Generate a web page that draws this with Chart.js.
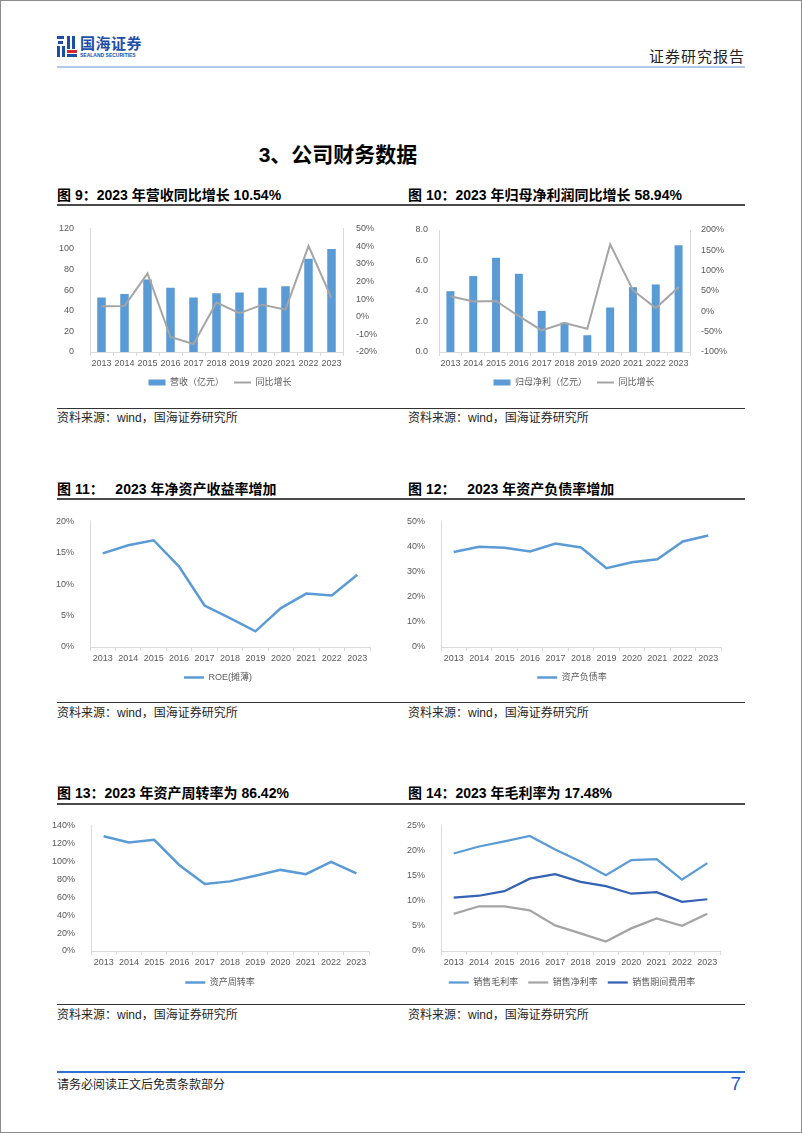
<!DOCTYPE html>
<html lang="zh-CN">
<head>
<meta charset="utf-8">
<title>公司财务数据</title>
<script src="https://cdn.jsdelivr.net/npm/chart.js@4.4.1/dist/chart.umd.min.js"></script>
<style>
  html, body { margin: 0; padding: 0; background: #fff; }
  body { position: relative; width: 802px; height: 1133px; overflow: hidden;
         font-family: "Liberation Sans", "Noto Sans CJK SC", sans-serif; color: #000; }
  .page { position: absolute; left: 0; top: 0; width: 800px; height: 1131px; border: 1px solid #8c8c8c; }
  .abs { position: absolute; white-space: nowrap; }
  canvas { position: absolute; }
  .fig-title { font-size: 14px; font-weight: bold; line-height: 16px; }
  .rule-dark { position: absolute; left: 57px; width: 688px; height: 2px; background: #4a4a4a; }
  .rule-thin { position: absolute; left: 57px; width: 688px; height: 1px; background: #333; }
  .source { font-size: 12px; line-height: 14px; color: #262626; }
  .logo b { position: absolute; display: block; }
</style>
</head>
<body>
<div class="page"></div>

<!-- 页眉 -->
<div class="abs logo" style="left:57px;top:36px;width:20px;height:21px;">
  <b style="left:0;top:0;width:7px;height:3px;background:#1d4fa8;"></b>
  <b style="left:1px;top:5px;width:5px;height:3px;background:#1d4fa8;"></b>
  <b style="left:0;top:10px;width:3px;height:11px;background:#1d4fa8;"></b>
  <b style="left:5px;top:10px;width:3px;height:11px;background:#1d4fa8;"></b>
  <b style="left:10px;top:0;width:3px;height:13px;background:#1d4fa8;"></b>
  <b style="left:15px;top:0;width:3px;height:13px;background:#1d4fa8;"></b>
  <b style="left:10px;top:14px;width:10px;height:3px;background:#d62a2a;"></b>
  <b style="left:10px;top:18px;width:10px;height:3px;background:#1d4fa8;"></b>
</div>
<div class="abs" style="left:80px;top:35px;font-size:15px;font-weight:bold;color:#1d4fa8;line-height:17px;letter-spacing:0.5px;">国海证券</div>
<div class="abs" style="left:80px;top:52px;font-size:5px;font-weight:bold;color:#1d4fa8;line-height:6px;">SEALAND SECURITIES</div>
<div class="abs" style="right:57px;top:47px;font-size:15px;color:#222;line-height:19px;letter-spacing:1px;">证券研究报告</div>
<div class="abs" style="left:57px;top:66px;width:688px;height:2px;background:#b0c8ec;"></div>

<div class="abs" style="left:0;width:802px;top:142px;text-align:center;font-size:21px;font-weight:bold;line-height:26px;padding-right:126px;box-sizing:border-box;">3、公司财务数据</div>

<!-- 第一行 -->
<div class="abs fig-title" style="left:57px;top:187px;">图 9：2023 年营收同比增长 10.54%</div>
<div class="abs fig-title" style="left:408px;top:187px;">图 10：2023 年归母净利润同比增长 58.94%</div>
<div class="rule-dark" style="top:204px;"></div>
<canvas id="c9"></canvas>
<canvas id="c10"></canvas>
<div class="rule-thin" style="top:408px;"></div>
<div class="abs source" style="left:57px;top:411px;">资料来源：wind，国海证券研究所</div>
<div class="abs source" style="left:408px;top:411px;">资料来源：wind，国海证券研究所</div>

<!-- 第二行 -->
<div class="abs fig-title" style="left:57px;top:481px;">图 11：&nbsp;&nbsp;&nbsp;2023 年净资产收益率增加</div>
<div class="abs fig-title" style="left:408px;top:481px;">图 12：&nbsp;&nbsp;&nbsp;2023 年资产负债率增加</div>
<div class="rule-dark" style="top:498px;"></div>
<canvas id="c11"></canvas>
<canvas id="c12"></canvas>
<div class="rule-thin" style="top:702px;"></div>
<div class="abs source" style="left:57px;top:706px;">资料来源：wind，国海证券研究所</div>
<div class="abs source" style="left:408px;top:706px;">资料来源：wind，国海证券研究所</div>

<!-- 第三行 -->
<div class="abs fig-title" style="left:57px;top:785px;">图 13：2023 年资产周转率为 86.42%</div>
<div class="abs fig-title" style="left:408px;top:785px;">图 14：2023 年毛利率为 17.48%</div>
<div class="rule-dark" style="top:803px;"></div>
<canvas id="c13"></canvas>
<canvas id="c14"></canvas>
<div class="rule-thin" style="top:1004px;"></div>
<div class="abs source" style="left:57px;top:1008px;">资料来源：wind，国海证券研究所</div>
<div class="abs source" style="left:408px;top:1008px;">资料来源：wind，国海证券研究所</div>

<!-- 页脚 -->
<div class="abs" style="left:57px;top:1071px;width:688px;height:2px;background:#2f6fd6;"></div>
<div class="abs" style="left:57px;top:1078px;font-size:12px;color:#222;line-height:15px;">请务必阅读正文后免责条款部分</div>
<div class="abs" style="right:61px;top:1073px;font-size:19px;color:#1f5bd0;line-height:22px;">7</div>

<script>
// 数据
const years = ['2013', '2014', '2015', '2016', '2017', '2018', '2019', '2020', '2021', '2022', '2023'];
const revenue = [53, 56.4, 70.4, 62.5, 52.9, 57, 57.7, 62.3, 63.9, 90.5, 99.9];
const revenueYoy = [5.9, 6, 24.5, -11.5, -15.5, 8, 2, 6.8, 4, 40, 10.54];
const netProfit = [3.99, 4.98, 6.18, 5.13, 2.70, 1.93, 1.10, 2.92, 4.25, 4.43, 7.0];
const netProfitYoy = [37, 24, 25.5, -12, -47, -29, -43, 165, 52, 8, 58.94];
const roe = [14.9, 16.2, 17.0, 12.8, 6.6, 4.6, 2.5, 6.2, 8.5, 8.2, 11.5];
const debtRatio = [37.8, 39.9, 39.5, 38.0, 41.2, 39.6, 31.4, 33.7, 34.9, 42.0, 44.4];
const assetTurnover = [128, 121, 124, 95.6, 74.6, 77.6, 83.8, 90.4, 85.7, 99.3, 86.42];
const grossMargin = [19.4, 20.8, 21.8, 22.9, 20.2, 17.8, 15.1, 18.1, 18.3, 14.2, 17.48];
const netMargin = [7.4, 8.9, 8.9, 8.1, 5.1, 3.5, 1.9, 4.5, 6.5, 5.0, 7.4];
const expenseRatio = [10.6, 11.0, 11.9, 14.4, 15.3, 13.75, 12.9, 11.4, 11.7, 9.8, 10.3];

const FONT = '"Liberation Sans", "Noto Sans CJK SC", sans-serif';
const tickFont = { family: FONT, size: 9 };
const axisGray = '#d9d9d9';
const textGray = '#595959';
const blue = '#5b9bd5';
const gray = '#a5a5a5';
const darkBlue = '#3461b3';

const pct = v => v + '%';

// 图例整体平移，使其中心对准原图位置
const legendShift = {
    id: 'legendShift',
    afterLayout(chart, args, opts) {
        const lg = chart.legend;
        if (lg && opts.dx) {
            lg.left += opts.dx;
            lg.right += opts.dx;
        }
    }
};

// 按页面坐标摆放画布
function frame(id, g) {
    const left = g.plotLeft - 45;
    const top = g.plotTop - g.padTop;
    const padRight = g.rightW ? 0 : 28;
    const right = g.plotRight + (g.rightW || 28);
    const height = (g.plotBottom - top) + g.xH + 29;
    const legendMid = left + (right - left - padRight) / 2;
    const cv = document.getElementById(id);
    cv.width = right - left;
    cv.height = height;
    cv.style.left = left + 'px';
    cv.style.top = top + 'px';
    return { cv: cv, padRight: padRight, padTop: g.padTop, xH: g.xH, rightW: g.rightW, dx: g.legendX - legendMid };
}

function xAxis(h) {
    return {
        type: 'category',
        offset: true,
        grid: { display: true, offset: true, drawOnChartArea: false, tickLength: 4, color: axisGray },
        border: { display: true, color: axisGray },
        ticks: { color: textGray, font: tickFont, padding: 2, autoSkip: false, maxRotation: 0 },
        afterFit: s => { s.height = h; }
    };
}

function yAxis(pos, min, max, step, fmt, w, pad) {
    return {
        position: pos, min: min, max: max,
        grid: { display: false },
        border: { display: true, color: axisGray },
        ticks: { stepSize: step, color: textGray, font: tickFont, padding: pad, callback: fmt },
        afterFit: s => { s.width = w; }
    };
}

function legendOpts(styleW) {
    return {
        position: 'bottom',
        labels: {
            usePointStyle: true, pointStyleWidth: styleW, boxHeight: 6, padding: 10,
            color: textGray, font: tickFont,
            sort: (a, b) => a.datasetIndex - b.datasetIndex
        }
    };
}

function baseOptions(f, scales, legend) {
    return {
        responsive: false,
        animation: false,
        events: [],
        layout: { padding: { top: f.padTop, right: f.padRight, left: 0, bottom: 0 } },
        scales: scales,
        plugins: { legend: legend, tooltip: { enabled: false }, legendShift: { dx: f.dx } }
    };
}

function lineSet(label, data, color, width) {
    return {
        type: 'line', label: label, data: data, borderColor: color, backgroundColor: color,
        borderWidth: width, pointRadius: 0, tension: 0, pointStyle: 'line', order: 1
    };
}

// 图9 营收
const f9 = frame('c9', { plotLeft: 90, plotRight: 343, plotTop: 228, plotBottom: 352, padTop: 13, xH: 16, rightW: 54, legendX: 220 });
new Chart(f9.cv, {
    data: {
        labels: years,
        datasets: [
            { type: 'bar', label: '营收（亿元）', data: revenue, backgroundColor: blue,
              barPercentage: 0.37, categoryPercentage: 1, yAxisID: 'y', pointStyle: 'rect', order: 2 },
            Object.assign(lineSet('同比增长', revenueYoy, gray, 2), { yAxisID: 'y1' })
        ]
    },
    options: baseOptions(f9, {
        x: xAxis(f9.xH),
        y: yAxis('left', 0, 120, 20, v => v, 45, 8),
        y1: yAxis('right', -20, 50, 10, pct, f9.rightW, 5)
    }, legendOpts(17)),
    plugins: [legendShift]
});

// 图10 归母净利润
const f10 = frame('c10', { plotLeft: 439, plotRight: 690, plotTop: 230, plotBottom: 352, padTop: 15, xH: 16, rightW: 58, legendX: 574 });
new Chart(f10.cv, {
    data: {
        labels: years,
        datasets: [
            { type: 'bar', label: '归母净利（亿元）', data: netProfit, backgroundColor: blue,
              barPercentage: 0.35, categoryPercentage: 1, yAxisID: 'y', pointStyle: 'rect', order: 2 },
            Object.assign(lineSet('同比增长', netProfitYoy, gray, 2), { yAxisID: 'y1' })
        ]
    },
    options: baseOptions(f10, {
        x: xAxis(f10.xH),
        y: yAxis('left', 0, 8, 2, v => v.toFixed(1), 45, 3),
        y1: yAxis('right', -100, 200, 50, pct, f10.rightW, 3)
    }, legendOpts(17)),
    plugins: [legendShift]
});

// 图11 ROE
const f11 = frame('c11', { plotLeft: 90, plotRight: 370, plotTop: 520, plotBottom: 647, padTop: 12, xH: 16, legendX: 218 });
new Chart(f11.cv, {
    data: { labels: years, datasets: [lineSet('ROE(摊薄)', roe, blue, 2.5)] },
    options: baseOptions(f11, {
        x: xAxis(f11.xH),
        y: yAxis('left', 0, 20, 5, pct, 45, 8)
    }, legendOpts(20)),
    plugins: [legendShift]
});

// 图12 资产负债率
const f12 = frame('c12', { plotLeft: 441, plotRight: 721, plotTop: 520, plotBottom: 647, padTop: 12, xH: 16, legendX: 572 });
new Chart(f12.cv, {
    data: { labels: years, datasets: [lineSet('资产负债率', debtRatio, blue, 2.5)] },
    options: baseOptions(f12, {
        x: xAxis(f12.xH),
        y: yAxis('left', 0, 50, 10, pct, 45, 8)
    }, legendOpts(20)),
    plugins: [legendShift]
});

// 图13 资产周转率
const f13 = frame('c13', { plotLeft: 91, plotRight: 369, plotTop: 824, plotBottom: 951, padTop: 12, xH: 17, legendX: 220 });
new Chart(f13.cv, {
    data: { labels: years, datasets: [lineSet('资产周转率', assetTurnover, blue, 2.5)] },
    options: baseOptions(f13, {
        x: xAxis(f13.xH),
        y: yAxis('left', 0, 140, 20, pct, 45, 8)
    }, legendOpts(20)),
    plugins: [legendShift]
});

// 图14 毛利率等
const f14 = frame('c14', { plotLeft: 441, plotRight: 720, plotTop: 824, plotBottom: 951, padTop: 12, xH: 17, legendX: 572 });
new Chart(f14.cv, {
    data: {
        labels: years,
        datasets: [
            lineSet('销售毛利率', grossMargin, blue, 2.25),
            lineSet('销售净利率', netMargin, gray, 2.25),
            lineSet('销售期间费用率', expenseRatio, darkBlue, 2.25)
        ]
    },
    options: baseOptions(f14, {
        x: xAxis(f14.xH),
        y: yAxis('left', 0, 25, 5, pct, 45, 8)
    }, legendOpts(20)),
    plugins: [legendShift]
});
</script>
</body>
</html>
